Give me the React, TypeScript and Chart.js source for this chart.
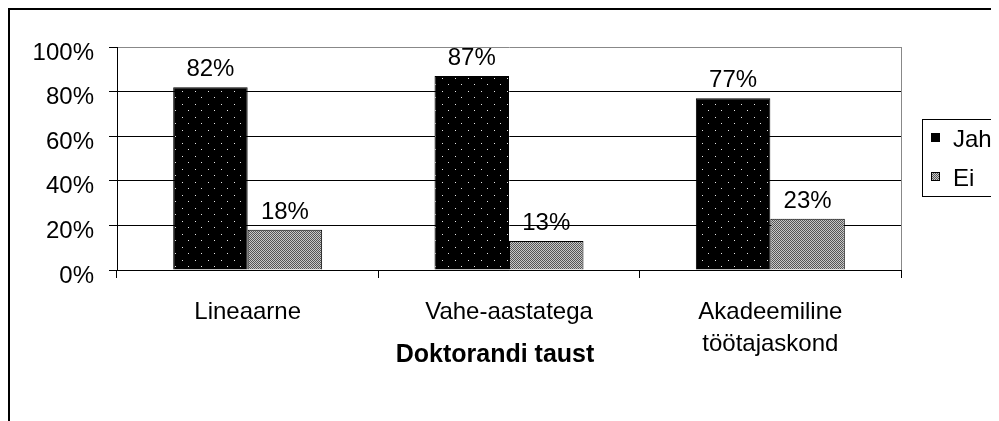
import React, { useEffect, useRef } from "react";
import { Chart, registerables } from "chart.js";

Chart.register(...registerables);

const categories: (string | string[])[] = [
  "Lineaarne",
  "Vahe-aastatega",
  ["Akadeemiline", "töötajaskond"],
];
const seriesNames = ["Jah", "Ei"];
const jahValues = [82, 87, 77];
const eiValues = [18, 13, 23];
const yTicks = [0, 20, 40, 60, 80, 100];
const xTitle = "Doktorandi taust";

const FONT = "'Liberation Sans', Arial, sans-serif";

function makeDotPattern(ctx: CanvasRenderingContext2D): CanvasPattern | string {
  const c = document.createElement("canvas");
  c.width = 13;
  c.height = 13;
  const g = c.getContext("2d");
  if (!g) return "#000";
  g.fillStyle = "#000";
  g.fillRect(0, 0, 13, 13);
  g.fillStyle = "#e8e8e8";
  g.fillRect(3, 3, 1, 1);
  g.fillRect(9, 9, 1, 1);
  return ctx.createPattern(c, "repeat") || "#000";
}

function makeCheckPattern(ctx: CanvasRenderingContext2D): CanvasPattern | string {
  const c = document.createElement("canvas");
  c.width = 2;
  c.height = 2;
  const g = c.getContext("2d");
  if (!g) return "#999";
  g.fillStyle = "#c8c8c8";
  g.fillRect(0, 0, 2, 2);
  g.fillStyle = "#555";
  g.fillRect(0, 0, 1, 1);
  g.fillRect(1, 1, 1, 1);
  return ctx.createPattern(c, "repeat") || "#999";
}

export default function App() {
  const canvasRef = useRef<HTMLCanvasElement | null>(null);

  useEffect(() => {
    document.body.style.overflow = "hidden";
    const canvas = canvasRef.current;
    if (!canvas) return;
    const ctx = canvas.getContext("2d");
    if (!ctx) return;
    const jahFill = makeDotPattern(ctx);
    const eiFill = makeCheckPattern(ctx);
    const fills = [jahFill, eiFill];

    const extrasPlugin = {
      id: "extras",
      afterDatasetsDraw(chart: any) {
        const c = chart.ctx;
        const area = chart.chartArea;
        c.save();
        c.strokeStyle = "#888";
        c.lineWidth = 1;
        c.beginPath();
        c.moveTo(Math.round(area.right) + 0.5, area.top);
        c.lineTo(Math.round(area.right) + 0.5, area.bottom);
        c.stroke();
        c.fillStyle = "#000";
        c.font = `24px ${FONT}`;
        c.textAlign = "center";
        c.textBaseline = "alphabetic";
        chart.data.datasets.forEach((ds: any, di: number) => {
          const meta = chart.getDatasetMeta(di);
          meta.data.forEach((bar: any, i: number) => {
            c.fillText(`${ds.data[i]}%`, bar.x, bar.y - 11);
          });
        });
        c.restore();
      },
      afterDraw(chart: any) {
        const c = chart.ctx;
        const area = chart.chartArea;
        c.save();
        c.fillStyle = "#000";
        c.font = `bold 25px ${FONT}`;
        c.textAlign = "center";
        c.textBaseline = "middle";
        c.fillText(xTitle, (area.left + area.right) / 2 - 14, area.bottom + 85);
        const lx = area.right + 21;
        const ly = area.top + 72;
        c.strokeStyle = "#000";
        c.lineWidth = 1;
        c.strokeRect(lx + 0.5, ly + 0.5, 200, 77);
        c.font = `24px ${FONT}`;
        c.textAlign = "left";
        c.textBaseline = "middle";
        seriesNames.forEach((name, i) => {
          const sy = ly + 14 + i * 39;
          c.fillStyle = fills[i] as any;
          c.fillRect(lx + 9, sy, 9, 9);
          c.strokeStyle = "#000";
          c.strokeRect(lx + 9.5, sy + 0.5, 8, 8);
          c.fillStyle = "#000";
          c.fillText(name, lx + 31, sy + 7);
        });
        c.restore();
      },
    };

    const chart = new Chart(canvas, {
      type: "bar",
      data: {
        labels: categories,
        datasets: [
          {
            label: seriesNames[0],
            data: jahValues,
            backgroundColor: jahFill as any,
            borderColor: "#000",
            borderWidth: 1,
            categoryPercentage: 0.57,
            barPercentage: 1,
          },
          {
            label: seriesNames[1],
            data: eiValues,
            backgroundColor: eiFill as any,
            borderColor: "#000",
            borderWidth: 1,
            categoryPercentage: 0.57,
            barPercentage: 1,
          },
        ],
      },
      options: {
        animation: false,
        responsive: false,
        maintainAspectRatio: false,
        layout: { padding: { top: 37, right: 98, bottom: 0, left: 0 } },
        plugins: {
          legend: { display: false },
          tooltip: { enabled: false },
          title: { display: false },
        },
        scales: {
          x: {
            offset: true,
            grid: {
              offset: true,
              drawOnChartArea: false,
              drawTicks: true,
              tickLength: 8,
              color: "#000",
            },
            border: { display: true, color: "#000", width: 1 },
            ticks: {
              color: "#000",
              font: { family: FONT, size: 24, lineHeight: 1.33 },
              padding: 18,
              maxRotation: 0,
              autoSkip: false,
            },
            afterFit(scale: any) {
              scale.height = 151;
            },
          },
          y: {
            min: 0,
            max: 100,
            afterBuildTicks(scale: any) {
              scale.ticks = yTicks.map((v) => ({ value: v }));
            },
            grid: {
              color: (c: any) => (c.tick && c.tick.value === 100 ? "#888" : "#000"),
              tickColor: "#000",
              tickLength: 8,
              drawTicks: true,
            },
            border: { display: true, color: "#000", width: 1 },
            ticks: {
              color: "#000",
              font: { family: FONT, size: 24 },
              padding: 15,
              labelOffset: 6,
              callback: (v: any) => `${v}%`,
            },
            afterFit(scale: any) {
              scale.width = 107;
            },
          },
        },
      },
      plugins: [extrasPlugin],
    });

    return () => {
      chart.destroy();
    };
  }, []);

  return (
    <div
      style={{
        width: 989,
        height: 411,
        borderLeft: "2px solid #000",
        borderTop: "2px solid #000",
      }}
    >
      <canvas ref={canvasRef} width={989} height={411} style={{ display: "block" }} />
    </div>
  );
}
